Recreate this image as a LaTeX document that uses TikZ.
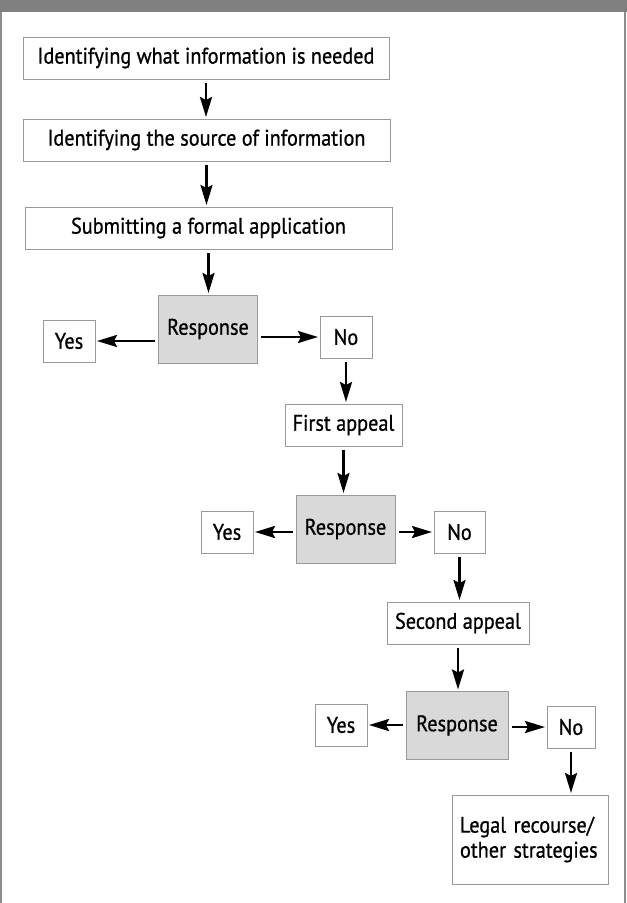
\documentclass[tikz,border=0pt]{standalone}
\usepackage{fontspec}
\setmainfont[FakeStretch=0.9,FakeBold=0.8,Ligatures=NoCommon]{PT Sans}
\usetikzlibrary{arrows.meta}

\begin{document}
\begin{tikzpicture}[x=1pt,y=-1pt,
  box/.style={draw=black!40,line width=1pt,fill=white,inner sep=0pt,
    minimum height=42pt,font=\fontsize{22.5}{25}\selectfont},
  resp/.style={box,fill=black!15,minimum width=99pt,minimum height=68pt},
  arr/.style={-{Stealth[length=20pt,width=12pt,inset=3pt]},line width=2.5pt,
    shorten <=3pt,shorten >=1.5pt}]
  \useasboundingbox (0,0) rectangle (627,903);
  \fill[black!50] (0,0) rectangle (627,12);
  \draw[black!45,line width=1.5pt] (1,12) -- (1,903);
  \draw[black!45,line width=1.5pt] (625,12) -- (625,903);

  \node[box,minimum width=366pt] (need) at (206,58) {Identifying what information is needed};
  \node[box,minimum width=367pt] (source) at (206.5,140) {Identifying the source of information};
  \node[box,minimum width=367pt] (apply) at (208.5,228) {Submitting a formal application};

  \node[resp] (resp1) at (208,329) {Response};
  \node[box,minimum width=52pt] (yes1) at (69,341) {Yes};
  \node[box,minimum width=52pt] (no1) at (346,337) {No};
  \node[box,minimum width=117pt] (first) at (343.5,425) {First appeal};

  \node[resp] (resp2) at (345.5,529) {Response};
  \node[box,minimum width=52pt] (yes2) at (227,532) {Yes};
  \node[box,minimum width=51pt] (no2) at (459.5,532) {No};
  \node[box,minimum width=142pt] (second) at (458,623) {Second appeal};

  \node[resp,minimum width=102pt] (resp3) at (457,725.5) {Response};
  \node[box,minimum width=52pt] (yes3) at (341,725) {Yes};
  \node[box,minimum width=48pt] (no3) at (571,727) {No};
  \node[box,minimum width=156pt,minimum height=89pt,text width=140pt,align=left]
    (legal) at (530,839.5) {Legal recourse/\\other strategies};

  \foreach \a/\b in {need/source,source/apply,apply/resp1,no1/first,first/resp2,
    no2/second,second/resp3,no3/legal}
    \draw[arr] (\a.south) -- (\a.south |- \b.north);
  \foreach \r/\y/\n in {resp1/yes1/no1,resp2/yes2/no2,resp3/yes3/no3} {
    \draw[arr] (\r.west |- \y) -- (\y.east);
    \draw[arr] (\r.east |- \n) -- (\n.west);
  }
\end{tikzpicture}
\end{document}
